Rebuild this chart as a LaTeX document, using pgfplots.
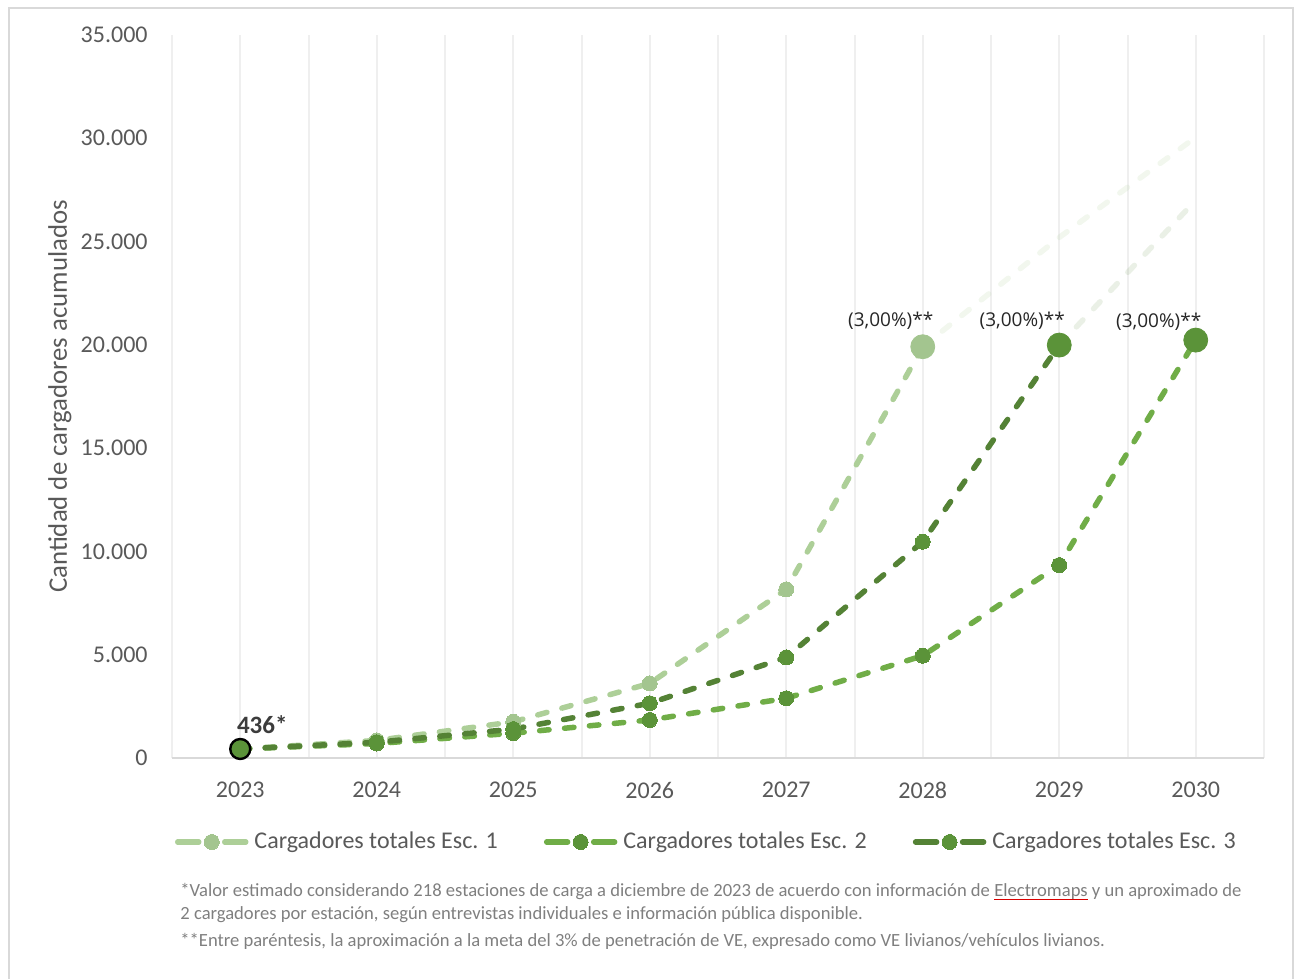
\documentclass[border=0pt]{standalone}
\usepackage{pgfplots}
\pgfplotsset{compat=1.18}
\usepackage{fontspec}
\setmainfont{Carlito}
\newfontfamily\labelfont{Open Sans}

\definecolor{escA}{HTML}{ADCF98}
\definecolor{escAm}{HTML}{A3C58F}
\definecolor{escB}{HTML}{70AD47}
\definecolor{escC}{HTML}{548235}
\definecolor{escM}{HTML}{5B9339}
\definecolor{txt}{HTML}{595959}
\definecolor{lbl}{HTML}{262626}
\definecolor{foot}{HTML}{7F7F7F}
\definecolor{gridc}{HTML}{EFEFEF}
\definecolor{framec}{HTML}{D9D9D9}

% proofing mark under a word
\newcommand\spell[1]{\leavevmode\setbox0\hbox{#1}\rlap{\textcolor{red!85!black}{\rule[-1.8pt]{\wd0}{0.5pt}}}\box0\relax}

\pgfplotsset{
  dashline/.style={line width=2.75pt, line cap=round, dash pattern=on 4.75pt off 7.75pt},
}

\begin{document}
\begin{tikzpicture}
\useasboundingbox (0,0) rectangle (648pt,489.5pt);
\draw[framec, line width=1pt] (4.25pt,-2pt) -- (4.25pt,485.5pt) -- (646.5pt,485.5pt) -- (646.5pt,-2pt);

\begin{axis}[
  at={(86pt,110.5pt)}, anchor=south west,
  scale only axis, width=546pt, height=361.5pt,
  xmin=2022.5, xmax=2030.5, ymin=0, ymax=35000,
  xtick={2023,2024,2025,2026,2027,2028,2029,2030},
  xticklabels={2023,2024,2025,2026,2027,2028,2029,2030},
  minor xtick={2022.5,2023.5,2024.5,2025.5,2026.5,2027.5,2028.5,2029.5,2030.5},
  xmajorgrids, xminorgrids,
  major grid style={gridc, line width=1pt},
  minor grid style={gridc, line width=1pt},
  major tick length=0pt, minor tick length=0pt,
  ytick={0,5000,10000,15000,20000,25000,30000,35000},
  scaled y ticks=false,
  /pgf/number format/.cd, 1000 sep={.}, assume math mode=true, /pgfplots/.cd,
  axis x line*=bottom, axis y line*=left,
  x axis line style={framec, line width=1pt},
  y axis line style={draw=none},
  ticklabel style={font=\fontsize{12}{14}\selectfont, text=txt, inner sep=0pt},
  xticklabel style={yshift=-12pt},
  yticklabel style={xshift=-12pt},
  every axis y label/.style={at={(axis description cs:-0.1026,0.5)}, rotate=90, anchor=center,
    font=\fontsize{13.4}{15}\selectfont, text=txt},
  ylabel={Cantidad de cargadores acumulados},
  clip=false,
  legend columns=3, legend cell align=left,
  legend style={at={(axis description cs:0.00275,-0.1162)}, anchor=west, draw=none, fill=none,
    inner sep=0pt, outer sep=0pt, font=\fontsize{12}{14}\selectfont, text=txt,
    nodes={inner sep=0pt},
    /tikz/every odd column/.append style={column sep=3pt},
    /tikz/every even column/.append style={column sep=23pt}},
  legend image code/.code={
    \draw[#1, solid, mark=none] (0pt,0pt) -- (10.5pt,0pt);
    \draw[#1, solid, mark=none] (23.5pt,0pt) -- (34pt,0pt);
    \draw[#1] plot coordinates {(17pt,0pt)};
  },
]

% faded continuation beyond the 3% target
\addplot[escA, opacity=0.16, dashline, forget plot] coordinates {(2028,19910) (2029,25200) (2030,30050)};
\addplot[escC, opacity=0.12, dashline, forget plot] coordinates {(2029,19990) (2030,27000)};

% scenario 1
\addplot[escA, dashline, mark=*, mark size=3.75pt,
  mark options={solid, fill=escAm, draw=escAm, line width=0pt}]
  coordinates {(2023,436) (2024,850) (2025,1750) (2026,3610) (2027,8165) (2028,19910)};
\addlegendentry{Cargadores totales Esc. 1}

% scenario 2
\addplot[escB, dashline, mark=*, mark size=3.75pt,
  mark options={solid, fill=escM, draw=escM, line width=0pt}]
  coordinates {(2023,436) (2024,700) (2025,1200) (2026,1840) (2027,2890) (2028,4950) (2029,9340) (2030,20230)};
\addlegendentry{Cargadores totales Esc. 2}

% scenario 3
\addplot[escC, dashline, mark=*, mark size=3.75pt,
  mark options={solid, fill=escM, draw=escM, line width=0pt}]
  coordinates {(2023,436) (2024,760) (2025,1400) (2026,2650) (2027,4870) (2028,10470) (2029,19990)};
\addlegendentry{Cargadores totales Esc. 3}

% target points
\addplot[only marks, mark=*, mark size=6pt, mark options={fill=escAm, draw=escAm}, forget plot]
  coordinates {(2028,19910)};
\addplot[only marks, mark=*, mark size=6pt, mark options={fill=escM, draw=escM}, forget plot]
  coordinates {(2029,19990)};
\addplot[only marks, mark=*, mark size=6pt, mark options={fill=escM, draw=escM}, forget plot]
  coordinates {(2030,20230)};

% starting value
\addplot[only marks, mark=*, mark size=5pt, mark options={fill=escM, draw=black, line width=1.2pt}, forget plot]
  coordinates {(2023,436)};

\node[font=\bfseries\fontsize{12.5}{14}\selectfont, text=lbl!90!white] at (axis cs:2023,436) [xshift=11pt, yshift=12pt] {436*};
\node[font=\labelfont\fontsize{9.5}{11}\selectfont, text=lbl] at (axis cs:2028,19910) [xshift=-16pt, yshift=13pt] {(3,00\%)**};
\node[font=\labelfont\fontsize{9.5}{11}\selectfont, text=lbl] at (axis cs:2029,19990) [xshift=-18.5pt, yshift=12pt] {(3,00\%)**};
\node[font=\labelfont\fontsize{9.5}{11}\selectfont, text=lbl] at (axis cs:2030,20230) [xshift=-18.5pt, yshift=9pt] {(3,00\%)**};
\end{axis}

\begin{scope}[every node/.style={anchor=west, inner sep=0pt, text=foot, font=\fontsize{9.3}{11}\selectfont}]
\node at (90pt,43.5pt) {*Valor estimado considerando 218 estaciones de carga a diciembre de 2023 de acuerdo con información de \spell{Electromaps} y un aproximado de};
\node at (90pt,32pt) {2 cargadores por estación, según entrevistas individuales e información pública disponible.};
\node at (90pt,19pt) {**Entre paréntesis, la aproximación a la meta del 3\% de penetración de VE, expresado como VE livianos/vehículos livianos.};
\end{scope}
\end{tikzpicture}
\end{document}
